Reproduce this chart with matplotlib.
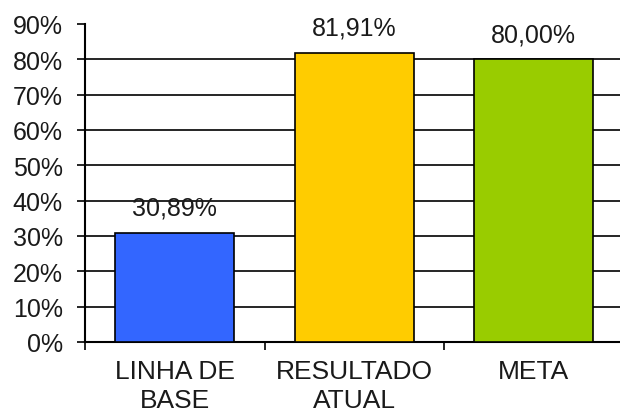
import matplotlib
matplotlib.use("Agg")
import matplotlib.pyplot as plt
from matplotlib.ticker import FixedLocator, FuncFormatter

categories = ["LINHA DE\nBASE", "RESULTADO\nATUAL", "META"]
values = [0.3089, 0.8191, 0.80]
value_labels = ["30,89%", "81,91%", "80,00%"]
colors = ["#3366FF", "#FFCC00", "#99CC00"]
yticks = [0.0, 0.1, 0.2, 0.3, 0.4, 0.5, 0.6, 0.7, 0.8, 0.9]

plt.rcParams['font.family'] = ['Liberation Sans', 'DejaVu Sans']
FS = 18
TXT = "#1a1a1a"

fig = plt.figure(figsize=(6.2, 4.1), dpi=100)
ax = fig.add_axes([85/620, 67/410, 538.5/620, 318/410])

x = list(range(len(categories)))
ax.bar(x, values, width=0.665, color=colors, edgecolor="black", linewidth=1.2, zorder=3)

for xi, v, lab in zip(x, values, value_labels):
    ax.annotate(lab, (xi, v), xytext=(0, 13), textcoords="offset points",
                ha="center", va="baseline", fontsize=FS, color=TXT)

ax.set_xlim(-0.5, 2.5)
ax.set_ylim(0, 0.9)
ax.set_yticks(yticks)
ax.yaxis.set_major_formatter(FuncFormatter(lambda v, p: f"{v*100:.0f}%"))
ax.tick_params(axis="y", direction="out", length=6, width=1.2, pad=10,
               labelsize=FS, labelcolor=TXT, colors="black")
ax.tick_params(axis="y", labelcolor=TXT)

ax.set_xticks(x)
ax.set_xticklabels(categories, fontsize=19, color=TXT, linespacing=1.25)
ax.tick_params(axis="x", which="major", length=0, pad=12.5)
ax.xaxis.set_minor_locator(FixedLocator([-0.5, 0.5, 1.5, 2.5]))
ax.tick_params(axis="x", which="minor", direction="out", length=6, width=1.2, color="black")

ax.yaxis.grid(True, color="black", linewidth=1.2, zorder=0)
ax.set_axisbelow(True)
gl = ax.get_ygridlines()
gl[-1].set_visible(False)

for s in ["top", "right"]:
    ax.spines[s].set_visible(False)
ax.spines["left"].set_linewidth(1.5)
ax.spines["bottom"].set_linewidth(1.5)

fig.savefig("out.png", dpi=100)
